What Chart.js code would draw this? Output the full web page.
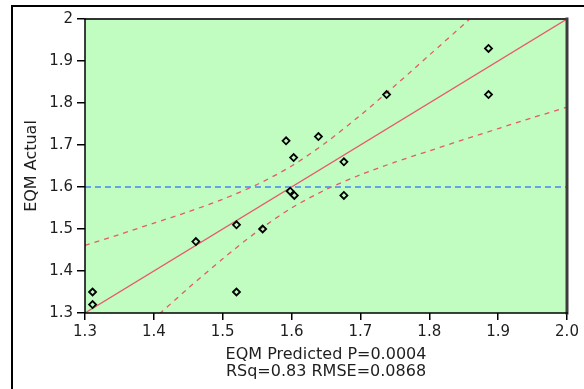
<!DOCTYPE html>
<html><head><meta charset="utf-8">
<script src="https://cdn.jsdelivr.net/npm/chart.js@4"></script>
<style>html,body{margin:0;padding:0;background:#fff;overflow:hidden}#wrap{width:584px;height:389px}</style>
</head><body><div id="wrap"><canvas id="c" width="584" height="389"></canvas></div>
<script>
// ---- data ----
const predicted = [1.311, 1.311, 1.461, 1.520, 1.520, 1.558, 1.592, 1.603, 1.598, 1.604, 1.639, 1.676, 1.676, 1.738, 1.886, 1.886];
const actual    = [1.35,  1.32,  1.47,  1.51,  1.35,  1.50,  1.71,  1.67,  1.59,  1.58,  1.72,  1.66,  1.58,  1.82,  1.93,  1.82];
const fitX = [1.3, 2.0];
const fitY = [1.3, 2.0];
const ciX     = [1.30, 1.35, 1.40, 1.45, 1.50, 1.55, 1.60, 1.65, 1.70, 1.75, 1.80, 1.85, 1.90, 1.95, 2.00];
const ciUpper = [1.461, 1.487, 1.514, 1.541, 1.571, 1.606, 1.650, 1.706, 1.771, 1.841, 1.914, 1.987, 2.061, 2.135, 2.210];
const ciLower = [1.139, 1.213, 1.286, 1.359, 1.429, 1.494, 1.550, 1.594, 1.629, 1.659, 1.686, 1.713, 1.739, 1.765, 1.790];
const meanX = [1.3, 2.0];
const meanActual = [1.6, 1.6];
const xTickLabels = ['1.3', '1.4', '1.5', '1.6', '1.7', '1.8', '1.9', '2.0'];
const yTickLabels = ['1.3', '1.4', '1.5', '1.6', '1.7', '1.8', '1.9', '2'];
const xTitle = ['EQM Predicted P=0.0004', 'RSq=0.83 RMSE=0.0868'];
const yTitle = 'EQM Actual';

const pts = (xs, ys) => xs.map((x, i) => ({x, y: ys[i]}));
const RED = 'rgb(232,88,108)';
const TXT = '#1e1e1e';
const FONT = 'DejaVu Sans';

const framePlugin = {
  id: 'frame',
  beforeDraw(chart) {
    const {ctx, chartArea: a} = chart;
    ctx.save();
    ctx.fillStyle = '#fff';
    ctx.fillRect(0, 0, chart.width, chart.height);
    ctx.fillStyle = '#c1fdc1';
    ctx.fillRect(a.left, a.top, a.right - a.left, a.bottom - a.top);
    ctx.strokeStyle = '#000';
    ctx.lineWidth = 2;
    ctx.beginPath();
    ctx.moveTo(12, chart.height);
    ctx.lineTo(12, 6);
    ctx.lineTo(chart.width, 6);
    ctx.stroke();
    ctx.restore();
  },
  afterDatasetsDraw(chart) {
    const {ctx, chartArea: a} = chart;
    ctx.save();
    ctx.lineCap = 'square';
    ctx.strokeStyle = '#333';
    ctx.lineWidth = 2;
    ctx.beginPath(); ctx.moveTo(a.left, a.top); ctx.lineTo(a.right, a.top); ctx.stroke();
    ctx.strokeStyle = '#3c3c3c';
    ctx.lineWidth = 3;
    ctx.beginPath(); ctx.moveTo(a.right, a.top); ctx.lineTo(a.right, a.bottom); ctx.stroke();
    ctx.strokeStyle = '#000';
    ctx.lineWidth = 1.5;
    ctx.beginPath(); ctx.moveTo(a.left, a.top); ctx.lineTo(a.left, a.bottom); ctx.lineTo(a.right, a.bottom); ctx.stroke();
    ctx.restore();
  }
};

new Chart(document.getElementById('c'), {
  type: 'scatter',
  data: {
    datasets: [
      { label: 'Actual', data: pts(predicted, actual), order: 0,
        pointStyle: 'rectRot', pointRadius: 3.5, pointBorderWidth: 1.8,
        borderColor: '#000', backgroundColor: 'rgba(0,0,0,0)' },
      { label: 'Fit', data: pts(fitX, fitY), showLine: true, order: 1,
        pointRadius: 0, borderColor: RED, borderWidth: 1.3 },
      { label: 'Upper', data: pts(ciX, ciUpper), showLine: true, order: 2, tension: 0.3,
        pointRadius: 0, borderColor: RED, borderWidth: 1.3, borderDash: [5, 5] },
      { label: 'Lower', data: pts(ciX, ciLower), showLine: true, order: 3, tension: 0.3,
        pointRadius: 0, borderColor: RED, borderWidth: 1.3, borderDash: [5, 5] },
      { label: 'Mean', data: pts(meanX, meanActual), showLine: true, order: 4,
        pointRadius: 0, borderColor: 'rgb(70,135,240)', borderWidth: 1.3, borderDash: [6, 4] }
    ]
  },
  options: {
    responsive: false,
    animation: false,
    devicePixelRatio: 1,
    layout: { padding: { left: 12, top: 19, right: 17, bottom: 0 } },
    plugins: { legend: { display: false }, tooltip: { enabled: false } },
    scales: {
      x: {
        min: 1.3, max: 2.0,
        afterFit: s => { s.height = 76; },
        ticks: { stepSize: 0.1, padding: 3, color: TXT, font: { family: FONT, size: 15 },
                 maxRotation: 0, autoSkip: false,
                 callback: (v, i) => xTickLabels[i] },
        grid: { display: true, drawOnChartArea: false, drawTicks: true, tickLength: 7, color: '#000', lineWidth: 1.5 },
        border: { display: false },
        title: { display: true, text: xTitle, color: TXT, font: { family: FONT, size: 16, lineHeight: 17 / 16 },
                 padding: { top: 0, bottom: 8.5 } }
      },
      y: {
        min: 1.3, max: 2.0,
        afterFit: s => { s.width = 73; },
        ticks: { stepSize: 0.1, padding: 4, color: TXT, font: { family: FONT, size: 15 },
                 autoSkip: false,
                 callback: (v, i) => yTickLabels[i] },
        grid: { display: true, drawOnChartArea: false, drawTicks: true, tickLength: 8, color: '#000', lineWidth: 1.5 },
        border: { display: false },
        title: { display: true, text: yTitle, color: TXT, font: { family: FONT, size: 16, lineHeight: 1.2 },
                 padding: { top: 10, bottom: 0 } }
      }
    }
  },
  plugins: [framePlugin]
});
</script>
</body></html>
